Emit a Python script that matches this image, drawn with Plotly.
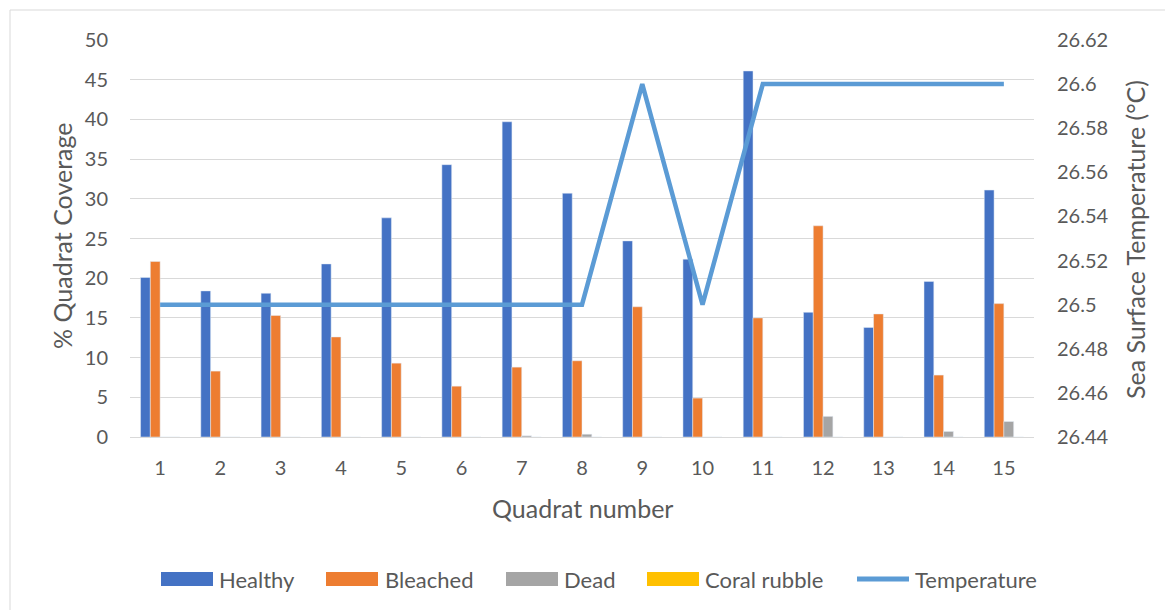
import plotly.graph_objects as go

quadrats = list(range(1, 16))
healthy = [20.1, 18.4, 18.1, 21.8, 27.6, 34.3, 39.7, 30.7, 24.7, 22.4, 46.1, 15.7, 13.8, 19.6, 31.1]
bleached = [22.1, 8.3, 15.3, 12.6, 9.3, 6.4, 8.8, 9.6, 16.4, 4.9, 15.0, 26.6, 15.5, 7.8, 16.8]
dead = [0, 0, 0, 0, 0, 0, 0.15, 0.35, 0, 0, 0, 2.6, 0, 0.7, 1.95]
rubble = [0] * 15
temperature = [26.5, 26.5, 26.5, 26.5, 26.5, 26.5, 26.5, 26.5, 26.6, 26.5, 26.6, 26.6, 26.6, 26.6, 26.6]

left_ticks = [0, 5, 10, 15, 20, 25, 30, 35, 40, 45, 50]
right_ticks = [26.44, 26.46, 26.48, 26.5, 26.52, 26.54, 26.56, 26.58, 26.6, 26.62]
right_labels = ["26.44", "26.46", "26.48", "26.5", "26.52", "26.54", "26.56", "26.58", "26.6", "26.62"]

bar_names = ["Healthy", "Bleached", "Dead", "Coral rubble"]
bar_colors = ["#4472C4", "#ED7D31", "#A5A5A5", "#FFC000"]
bar_values = [healthy, bleached, dead, rubble]
line_name = "Temperature"
line_color = "#5B9BD5"

FONT = "Lato, 'Open Sans', sans-serif"
TXT = "#595959"
GRID = "#D9D9D9"

# page body has an 8px margin; work in reference-pixel coords and shift
OFF = 8
W, H = 1173 - OFF, 610 - OFF
PL, PR, PT, PB = 130, 1034, 40, 437   # plot area in reference pixels
L, T = PL - OFF, PT - OFF
pw, ph = PR - PL, PB - PT
R = W - L - pw
B = H - T - ph

def px(x):
    return (x - PL) / pw

def py(y):
    return (PB - y) / ph

fig = go.Figure()
for name, color, vals in zip(bar_names, bar_colors, bar_values):
    fig.add_trace(go.Bar(x=quadrats, y=vals, name=name, marker_color=color, showlegend=False))
fig.add_trace(go.Scatter(x=quadrats, y=temperature, name=line_name, mode="lines",
                         line=dict(color=line_color, width=4.5), yaxis="y2", showlegend=False))

# custom legend (Excel style long swatches)
legend_y = 579
swatch_x = [161, 326, 506, 647]
text_x = [218, 384, 563, 704]
shapes = []
annotations = []
for name, color, sx, tx in zip(bar_names, bar_colors, swatch_x, text_x):
    shapes.append(dict(type="rect", xref="paper", yref="paper", x0=px(sx), x1=px(sx + 52),
                       y0=py(legend_y + 7), y1=py(legend_y - 7), fillcolor=color, line=dict(width=0)))
    annotations.append(dict(text=name, xref="paper", yref="paper", x=px(tx - 1), y=py(legend_y),
                            showarrow=False, xanchor="left", yanchor="middle",
                            font=dict(size=22, color=TXT)))
shapes.append(dict(type="line", xref="paper", yref="paper", x0=px(857), x1=px(909),
                   y0=py(legend_y), y1=py(legend_y), line=dict(color=line_color, width=5)))
annotations.append(dict(text=line_name, xref="paper", yref="paper", x=px(913), y=py(legend_y),
                        showarrow=False, xanchor="left", yanchor="middle", font=dict(size=22, color=TXT)))

annotations += [
    dict(text="Quadrat number", xref="paper", yref="paper", x=px(582), y=py(508),
         showarrow=False, font=dict(size=25, color=TXT), xanchor="center", yanchor="middle"),
    dict(text="% Quadrat Coverage", xref="paper", yref="paper", x=px(62), y=py(236),
         showarrow=False, textangle=-90, font=dict(size=25, color=TXT), xanchor="center", yanchor="middle"),
    dict(text="Sea Surface Temperature (°C)", xref="paper", yref="paper", x=px(1135), y=py(240),
         showarrow=False, textangle=-90, font=dict(size=25, color=TXT), xanchor="center", yanchor="middle"),
]
shapes += [
    dict(type="line", xref="paper", yref="paper", x0=px(10), x1=px(1200),
         y0=py(10), y1=py(10), line=dict(color=GRID, width=1)),
    dict(type="line", xref="paper", yref="paper", x0=px(10), x1=px(10),
         y0=py(10), y1=py(640), line=dict(color=GRID, width=1)),
]

fig.update_layout(
    width=W, height=H,
    margin=dict(l=L, r=R, t=T, b=B),
    paper_bgcolor="white", plot_bgcolor="white",
    font=dict(family=FONT, color=TXT, size=20),
    barmode="group", bargap=0.35, bargroupgap=0,
    showlegend=False,
    xaxis=dict(range=[0.5, 15.5], tickmode="array", tickvals=quadrats,
               ticktext=[str(q) for q in quadrats], showgrid=False, zeroline=False,
               showline=True, linecolor=GRID, linewidth=1, ticks="",
               tickfont=dict(size=20, color=TXT), ticklabelstandoff=13),
    yaxis=dict(range=[0, 50], tickmode="array", tickvals=left_ticks, showgrid=True,
               gridcolor=GRID, gridwidth=1, zeroline=False, showline=False, ticks="",
               tickfont=dict(size=20, color=TXT), ticklabelstandoff=21),
    yaxis2=dict(range=[26.44, 26.62], overlaying="y", side="right", tickmode="array",
                tickvals=right_ticks, ticktext=right_labels, showgrid=False, zeroline=False,
                showline=False, ticks="", tickfont=dict(size=20, color=TXT), ticklabelstandoff=22),
    annotations=annotations,
    shapes=shapes,
)

fig.write_html("out.html")
